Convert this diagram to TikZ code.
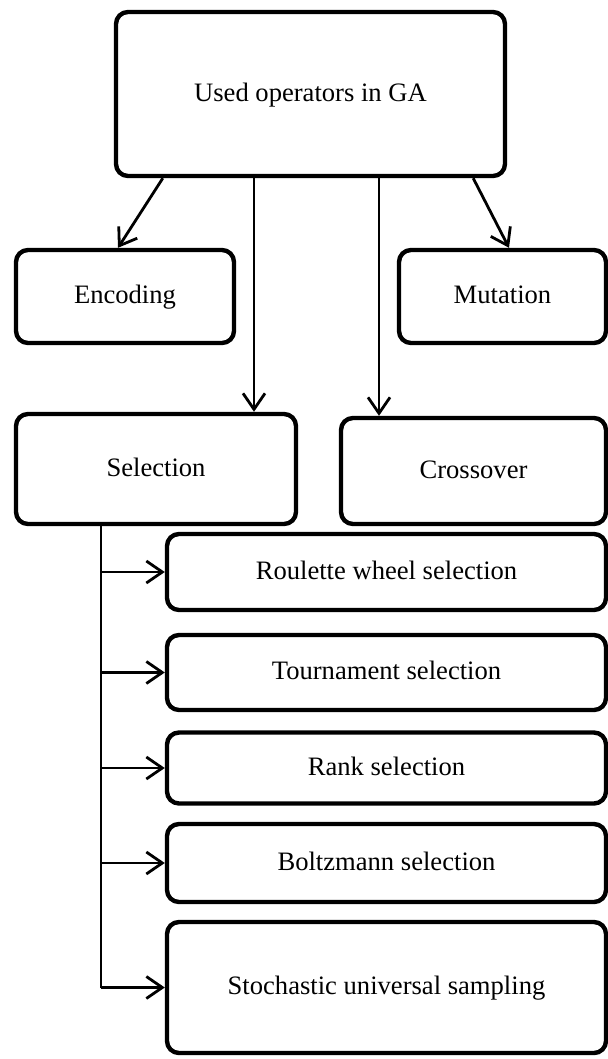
\documentclass[tikz,border=0pt]{standalone}
\usepackage{fontspec}
\setmainfont{Liberation Serif}
\usetikzlibrary{arrows.meta,calc}

\tikzset{
	opbox/.style={draw, line width=2.2pt, rounded corners=6pt, align=center,
		inner sep=0pt, text height=0.82em, text depth=0.1em,
		font=\fontsize{13.3}{16}\selectfont},
	arr/.style={line width=1.4pt, -{Straight Barb[length=8pt,width=11pt,line width=1.4pt]}},
}

\begin{document}
\begin{tikzpicture}[
								x=0.5pt,
								y=-0.5pt,
								]
								\useasboundingbox (0,0) rectangle (608,1059);
								% main operators
								\node [opbox, minimum width=194.5pt, minimum height=82pt] (ga) at (310.5,94) {Used operators in GA};
								\node [opbox, minimum width=109pt, minimum height=46.5pt] (enc) at (125,296.5) {Encoding};
								\node [opbox, minimum width=103.5pt, minimum height=46.5pt] (mut) at (502.5,296.5) {Mutation};
								\node [opbox, minimum width=140pt, minimum height=55pt] (sel) at (156,469) {Selection};
								\node [opbox, minimum width=132.5pt, minimum height=53pt] (cro) at (473.5,471) {Crossover};
								% selection methods
								\node [opbox, minimum width=219.5pt, minimum height=38pt] (rou) at (386.5,572) {Roulette wheel selection};
								\node [opbox, minimum width=219.5pt, minimum height=37.5pt] (tou) at (386.5,672.5) {Tournament selection};
								\node [opbox, minimum width=219.5pt, minimum height=35.5pt] (ran) at (386.5,768) {Rank selection};
								\node [opbox, minimum width=219.5pt, minimum height=39pt] (bol) at (386.5,863) {Boltzmann selection};
								\node [opbox, minimum width=219.5pt, minimum height=65.5pt] (sto) at (386.5,987.5) {Stochastic universal sampling};
								% connectors from GA
								\draw [arr] ([xshift=24.5pt]ga.south west) -- ([xshift=-3.5pt]enc.north);
								\draw [arr] ([xshift=-17pt]ga.south east) -- ([xshift=3.25pt]mut.north);
								\draw [arr] ([xshift=-28.25pt]ga.south) coordinate (s1) -- (s1 |- sel.north);
								\draw [arr] ([xshift=34.25pt]ga.south) coordinate (s2) -- (s2 |- cro.north);
								% selection trunk
								\draw [line width=1.4pt] ([xshift=-27.5pt]sel.south) coordinate (t) -- (t |- sto.west);
								\foreach \n in {rou,tou,ran,bol,sto}
												\draw [arr] (t |- \n.west) -- (\n.west);
				\end{tikzpicture}
\end{document}
